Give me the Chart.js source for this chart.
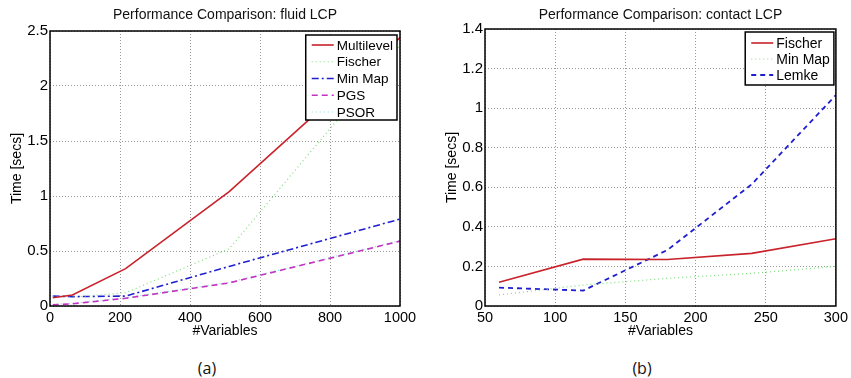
<!DOCTYPE html>
<html>
<head>
<meta charset="utf-8">
<script src="https://cdn.jsdelivr.net/npm/chart.js@4/dist/chart.umd.min.js"></script>
<style>
  body { margin: 0; background: #fff; width: 851px; height: 378px; overflow: hidden; position: relative; }
  .panel { position: absolute; top: 0; }
  .caption { position: absolute; top: 357px; font-family: "Open Sans", sans-serif; font-size: 16px; color: #111; transform: translateX(-50%); }
</style>
</head>
<body>
<div class="panel" style="left:0px"><canvas id="fluid" width="425" height="345"></canvas></div>
<div class="panel" style="left:435px"><canvas id="contact" width="416" height="345"></canvas></div>
<div class="caption" style="left:207px">(a)</div>
<div class="caption" style="left:642px">(b)</div>
<script>
// fluid LCP panel
var fluidVars = [8, 64, 216, 512, 1000];
var fluidMultilevel = [0.075, 0.1, 0.34, 1.04, 2.44];
var fluidFischer = [0.09, 0.08, 0.12, 0.52, 2.37];
var fluidMinMap = [0.09, 0.085, 0.09, 0.36, 0.79];
var fluidPGS = [0.01, 0.02, 0.07, 0.21, 0.59];
var fluidPSOR = [0.015, 0.025, 0.075, 0.215, 0.595];

// contact LCP panel
var contactVars = [60, 120, 180, 240, 300];
var contactFischer = [0.12, 0.237, 0.235, 0.266, 0.34];
var contactMinMap = [0.056, 0.106, 0.14, 0.165, 0.2];
var contactLemke = [0.093, 0.078, 0.283, 0.615, 1.066];

var FONT = '"Liberation Sans", Arimo, Arial, Helvetica, sans-serif';
Chart.defaults.font.family = FONT;

function toPoints(xs, ys) {
    return xs.map(function (x, i) { return {x: x, y: ys[i]}; });
}

function series(label, xs, ys, color, dash, width) {
    return {
        label: label,
        data: toPoints(xs, ys),
        borderColor: color,
        backgroundColor: color,
        borderDash: dash,
        borderWidth: width,
        pointRadius: 0,
        tension: 0,
        fill: false
    };
}

// box around plot area + legend in top right corner, matlab style
var boxLegend = {
    id: 'boxLegend',
    afterDatasetsDraw: function (chart, args, opts) {
        var ctx = chart.ctx;
        var a = chart.chartArea;
        ctx.save();
        ctx.strokeStyle = '#000';
        ctx.lineWidth = 1.5;
        ctx.strokeRect(a.left, a.top, a.right - a.left, a.bottom - a.top);

        ctx.font = opts.fontSize + 'px ' + FONT;
        var sets = chart.data.datasets;
        var maxW = 0;
        sets.forEach(function (d) { maxW = Math.max(maxW, ctx.measureText(d.label).width); });
        var w = 6 + 22 + 3 + maxW + 4;
        var h = opts.padTop + opts.rowH * (sets.length - 1) + opts.padBottom;
        var x0 = a.right - opts.insetX - w;
        var y0 = a.top + opts.insetY;
        ctx.fillStyle = '#fff';
        ctx.fillRect(x0, y0, w, h);
        ctx.lineWidth = 1.5;
        ctx.strokeStyle = '#000';
        ctx.strokeRect(x0, y0, w, h);

        sets.forEach(function (d, i) {
            var y = y0 + opts.padTop + i * opts.rowH;
            ctx.beginPath();
            ctx.setLineDash(d.borderDash || []);
            ctx.strokeStyle = d.borderColor;
            ctx.lineWidth = d.borderWidth;
            ctx.moveTo(x0 + 6, y);
            ctx.lineTo(x0 + 28, y);
            ctx.stroke();
            ctx.setLineDash([]);
            ctx.fillStyle = '#000';
            ctx.textBaseline = 'middle';
            ctx.textAlign = 'left';
            ctx.fillText(d.label, x0 + 31, y + 1);
        });
        ctx.restore();
    }
};

function plainTick(value) {
    return String(Math.round(value * 10) / 10);
}

function makeChart(id, datasets, title, xr, yr, rightPad, titlePad, legendOpts) {
    var ctx = document.getElementById(id);
    return new Chart(ctx, {
        type: 'line',
        data: {datasets: datasets},
        options: {
            responsive: false,
            animation: false,
            layout: {padding: {left: 0, right: rightPad, top: 0, bottom: 0}},
            plugins: {
                legend: {display: false},
                tooltip: {enabled: false},
                title: {
                    display: true,
                    fullSize: false, // centre over the plot box, not the canvas
                    text: title,
                    color: '#111',
                    font: {family: FONT, size: 14, weight: 'normal'},
                    padding: titlePad
                },
                boxLegend: legendOpts
            },
            scales: {
                x: {
                    type: 'linear',
                    min: xr[0],
                    max: xr[1],
                    afterFit: function (scale) { scale.height = 39; },
                    ticks: {stepSize: xr[2], color: '#000', padding: 3, maxRotation: 0,
                        callback: plainTick, font: {family: FONT, size: 14.5}},
                    grid: {color: '#999', lineWidth: 1, drawTicks: false},
                    border: {display: false, dash: [1, 2]},
                    title: {display: true, text: '#Variables', color: '#000',
                        font: {family: FONT, size: 14}, padding: {top: 0, bottom: 5.6}}
                },
                y: {
                    min: yr[0],
                    max: yr[1],
                    afterFit: function (scale) { scale.width = 50; },
                    ticks: {stepSize: yr[2], color: '#000', padding: 2,
                        callback: plainTick, font: {family: FONT, size: 15}},
                    grid: {color: '#999', lineWidth: 1, drawTicks: false},
                    border: {display: false, dash: [1, 2]},
                    title: {display: true, text: 'Time [secs]', color: '#000',
                        font: {family: FONT, size: 14}, padding: {top: 8.6, bottom: 0}}
                }
            }
        },
        plugins: [boxLegend]
    });
}

makeChart('fluid', [
    series('Multilevel', fluidVars, fluidMultilevel, '#c8232b', [], 1.6),
    series('Fischer', fluidVars, fluidFischer, '#7fdc7f', [1, 3], 1.2),
    series('Min Map', fluidVars, fluidMinMap, '#1f1fd0', [7, 3, 2, 3], 1.6),
    series('PGS', fluidVars, fluidPGS, '#c233c2', [6, 4], 1.6),
    series('PSOR', fluidVars, fluidPSOR, '#8ae0e0', [1, 3], 1.2)
], 'Performance Comparison: fluid LCP', [0, 1000, 200], [0, 2.5, 0.5], 25,
    {top: 6.6, bottom: 7.6},
    {fontSize: 13.5, insetX: 3, insetY: 4, padTop: 10, rowH: 16.75, padBottom: 8});

makeChart('contact', [
    series('Fischer', contactVars, contactFischer, '#c8232b', [], 1.6),
    series('Min Map', contactVars, contactMinMap, '#7fdc7f', [1, 3], 1.2),
    series('Lemke', contactVars, contactLemke, '#1f1fd0', [5, 4], 1.8)
], 'Performance Comparison: contact LCP', [50, 300, 50], [0, 1.4, 0.2], 13,
    {top: 6.6, bottom: 5.6},
    {fontSize: 14, insetX: 2, insetY: 3, padTop: 11, rowH: 16, padBottom: 10});
</script>
</body>
</html>
